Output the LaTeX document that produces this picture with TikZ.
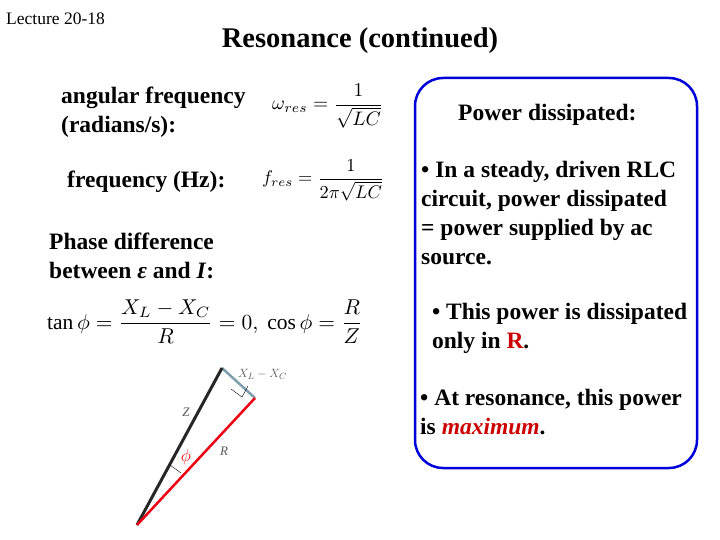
\documentclass[tikz,border=0pt]{standalone}
\usepackage{fontspec}
\setmainfont{Liberation Serif}
\begin{document}
\begin{tikzpicture}[x=1pt,y=-1pt,
  txt/.style={anchor=west,align=left,font=\bfseries\fontsize{23.5}{29}\selectfont,inner sep=0pt},
  eq/.style={anchor=west,inner sep=0pt,font=\fontsize{10}{12}\selectfont},
  lbl/.style={inner sep=0pt,font=\fontsize{13}{15}\selectfont\itshape,text=gray!70!black}]
\useasboundingbox (0,0) rectangle (720,540);
\node[anchor=west,inner sep=0pt,font=\fontsize{17.5}{18}\selectfont] (lec) at (6,19) {Lecture 20-18};
\node[inner sep=0pt,font=\bfseries\fontsize{28.5}{30}\selectfont] (title) at (360,41) {Resonance (continued)};
\node[txt] (af) at (61,112) {angular frequency\\(radians/s):};
\node[eq] (e1) at (272,106) {\scalebox{1.95}{$\displaystyle \omega_{res}=\frac{1}{\sqrt{LC}}$}};
\node[txt] (fq) at (67,182) {frequency (Hz):};
\node[eq] (e2) at (262,180) {\scalebox{1.83}{$\displaystyle f_{res}=\frac{1}{2\pi\sqrt{LC}}$}};
\node[txt] (ph) at (49,256) {Phase difference\\between \textit{ε} and \textit{I}:};
\node[eq] (e3) at (47,322) {\scalebox{2.15}{$\displaystyle \tan\phi=\frac{X_L-X_C}{R}=0,\ \cos\phi=\frac{R}{Z}$}};
\draw[blue!85!black,line width=2.5pt,rounded corners=28pt] (415,78) rectangle (697,468);
\node[txt] (pd) at (458,115) {Power dissipated:};
\node[txt,align=left] (b1) at (421,213) {• In a steady, driven RLC\\circuit, power dissipated\\= power supplied by ac\\source.};
\node[txt] (b2) at (426,328) {\ • This power is dissipated\\\ only in \textcolor{red!80!black}{R}.};
\node[txt] (b3) at (420,412) {• At resonance, this power\\is \textcolor{red!80!black}{\textit{maximum}}.};
\coordinate (O) at (137,525);
\coordinate (Zt) at (222,368);
\coordinate (Rt) at (255,398);
\draw[cyan!30!gray,line width=2.5pt] (Zt) -- (Rt);
\draw[black!85,line width=3pt] (O) -- (Zt);
\draw[red!70!purple,line width=2.5pt] (O) -- (Rt);
\draw[thin] (231,389) -- (242,397) -- (248,386);
\draw[thin] (170,465) -- (181,473);
\node[lbl] (zl) at (186,412) {Z};
\node[lbl] (rl) at (224,451) {R};
\node[lbl,anchor=west] (xl) at (238,374) {$X_L-X_C$};
\node[inner sep=0pt,text=red,font=\fontsize{18}{20}\selectfont] (phi) at (186,457) {$\phi$};
\end{tikzpicture}
\end{document}
